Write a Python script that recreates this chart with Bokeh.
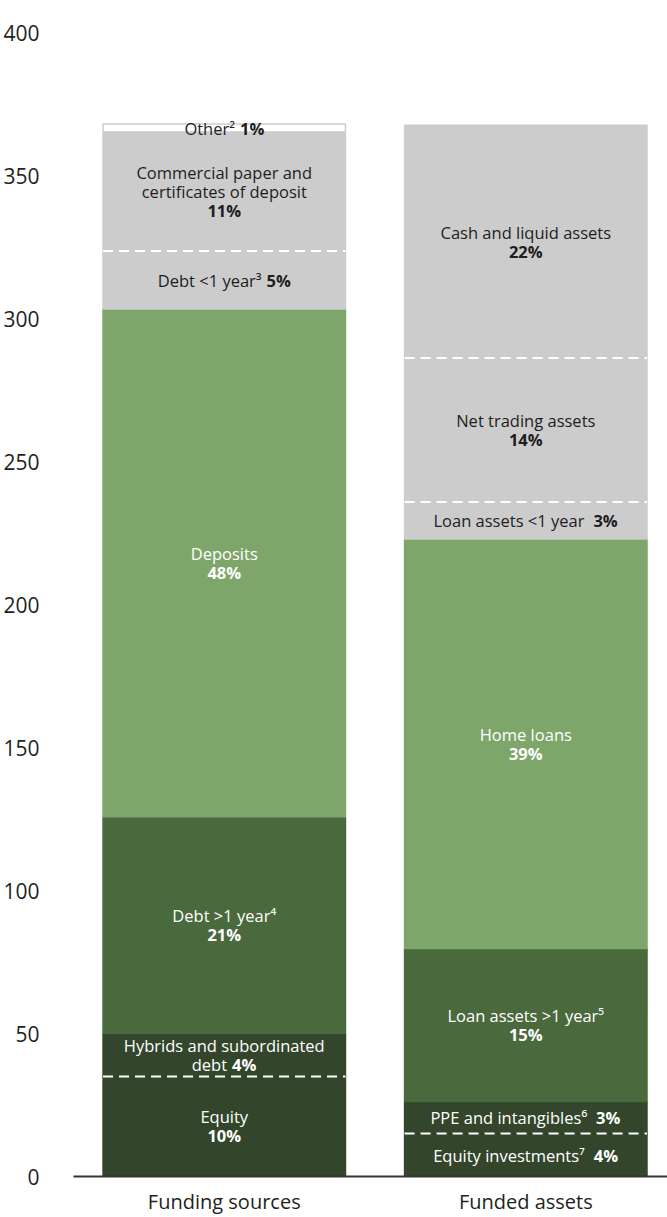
import numpy as np
from bokeh.plotting import figure
from bokeh.models import ColumnDataSource, Range1d, FixedTicker
from bokeh.core.properties import value
from bokeh.embed import file_html
from bokeh.resources import INLINE

# ---------------- data ----------------
categories = ["Funding sources", "Funded assets"]

funding_labels = ["Equity", "Hybrids and subordinated\ndebt", "Debt >1 year\u2074", "Deposits",
                  "Debt <1 year\u00b3", "Commercial paper and\ncertificates of deposit", "Other\u00b2"]
funding_values = [35.0, 15.0, 75.8, 177.5, 20.3, 41.6, 2.8]
funding_pct = ["10%", "4%", "21%", "48%", "5%", "11%", "1%"]

funded_labels = ["Equity investments\u2077", "PPE and intangibles\u2076", "Loan assets >1 year\u2075",
                 "Home loans", "Loan assets <1 year", "Net trading assets", "Cash and liquid assets"]
funded_values = [15.0, 11.2, 53.5, 143.2, 12.9, 50.4, 81.4]
funded_pct = ["4%", "3%", "15%", "39%", "3%", "14%", "22%"]

y_ticks = [0, 50, 100, 150, 200, 250, 300, 350, 400]

# ---------------- styles ----------------
DARKEST, DARK, LIGHT, GREY, WHITE = "#33462b", "#4a693d", "#7ea66b", "#cccccc", "#ffffff"
funding_fill = [DARKEST, DARKEST, DARK, LIGHT, GREY, GREY, WHITE]
funded_fill = [DARKEST, DARKEST, DARK, LIGHT, GREY, GREY, GREY]
funding_inline = [False, True, False, False, True, False, True]
funded_inline = [True, True, False, False, True, False, False]
funding_gap = [5, 5, 5, 5, 5, 5, 5]
funded_gap = [9, 9, 5, 5, 9, 5, 5]

FONT = "Open Sans"
LABEL_PX = 16.5
LINE_H = 19.0
BAR_W = 0.804

W_TABLE = {' ': .26, 'a': .556, 'b': .613, 'c': .476, 'd': .613, 'e': .561, 'f': .339, 'g': .548,
           'h': .614, 'i': .253, 'j': .253, 'k': .525, 'l': .253, 'm': .93, 'n': .614, 'o': .604,
           'p': .613, 'q': .613, 'r': .408, 's': .477, 't': .353, 'u': .614, 'v': .501, 'w': .778,
           'x': .524, 'y': .502, 'z': .477, 'D': .722, 'E': .526, 'P': .585, 'L': .516, 'O': .779,
           'C': .632, 'H': .738, 'N': .764, 'I': .279, '%': .838, '<': .572, '>': .572}


def text_w(s, bold=False):
    w = 0.0
    for ch in s:
        if ch in W_TABLE:
            w += W_TABLE[ch]
        elif ch in "\u00b2\u00b3\u00b9\u2074\u2075\u2076\u2077":
            w += 0.38
        else:
            w += 0.572
    return w * LABEL_PX * (1.06 if bold else 1.0)


def text_colour(fill):
    return "#1e1e1e" if fill in (GREY, WHITE) else "#ffffff"


p = figure(width=667, height=1217, output_backend="svg", toolbar_location=None,
           x_range=Range1d(0, 1.970), y_range=Range1d(0, 400),
           min_border_left=73, min_border_right=0, min_border_top=32, min_border_bottom=40)
p.outline_line_color = None
p.xgrid.grid_line_color = None
p.ygrid.grid_line_color = None
p.background_fill_color = "#ffffff"
p.border_fill_color = "#ffffff"

bars = dict(x=[], bottom=[], top=[], fill=[], line=[])
dashes = dict(x0=[], x1=[], y=[])
t_center = dict(x=[], y=[], text=[], dy=[], dx=[], color=[])
t_right = dict(x=[], y=[], text=[], dy=[], dx=[], color=[])
b_center = dict(x=[], y=[], text=[], dy=[], dx=[], color=[])
b_left = dict(x=[], y=[], text=[], dy=[], dx=[], color=[])


def add(d, x, y, text, dy, dx, color):
    d["x"].append(x); d["y"].append(y); d["text"].append(text)
    d["dy"].append(dy); d["dx"].append(dx); d["color"].append(color)


for ci, (labels, vals, pcts, fills, inline, gaps) in enumerate([
        (funding_labels, funding_values, funding_pct, funding_fill, funding_inline, funding_gap),
        (funded_labels, funded_values, funded_pct, funded_fill, funded_inline, funded_gap)]):
    xc = ci + 0.5
    tops = np.cumsum(vals)
    bottoms = tops - np.array(vals)
    for i in range(len(vals)):
        bars["x"].append(xc)
        bars["bottom"].append(bottoms[i])
        bars["top"].append(tops[i])
        bars["fill"].append(fills[i])
        bars["line"].append(GREY if fills[i] == WHITE else fills[i])
        if i + 1 < len(vals) and fills[i] == fills[i + 1]:
            dashes["x0"].append(xc - BAR_W / 2)
            dashes["x1"].append(xc + BAR_W / 2)
            dashes["y"].append(tops[i])
        ymid = (bottoms[i] + tops[i]) / 2
        col = text_colour(fills[i])
        lines = labels[i].split("\n")
        n_lines = len(lines) if inline[i] else len(lines) + 1
        for li, ln in enumerate(lines):
            dy = (li - (n_lines - 1) / 2) * LINE_H
            if inline[i] and li == len(lines) - 1:
                wn = text_w(ln)
                wp = text_w(pcts[i], bold=True)
                tot = wn + gaps[i] + wp
                add(t_right, xc, ymid, ln, dy, -tot / 2 + wn, col)
                add(b_left, xc, ymid, pcts[i], dy, -tot / 2 + wn + gaps[i], col)
            else:
                add(t_center, xc, ymid, ln, dy, 0.0, col)
        if not inline[i]:
            dy = (n_lines - 1 - (n_lines - 1) / 2) * LINE_H
            add(b_center, xc, ymid, pcts[i], dy, 0.0, col)

p.vbar(x="x", bottom="bottom", top="top", width=BAR_W, fill_color="fill", line_color="line",
       line_width=1.5, source=ColumnDataSource(bars))
p.segment(x0="x0", y0="y", x1="x1", y1="y", line_color="#ffffff", line_width=2,
          line_dash="10 6", source=ColumnDataSource(dashes))

for d, align, style in [(t_center, "center", "normal"), (t_right, "right", "normal"),
                        (b_center, "center", "bold"), (b_left, "left", "bold")]:
    p.text(x="x", y="y", text="text", x_offset="dx", y_offset="dy", text_color="color",
           text_align=align, text_baseline="middle", text_font=value(FONT),
           text_font_size=f"{LABEL_PX}px", text_font_style=style, source=ColumnDataSource(d))

# axes
p.yaxis.ticker = FixedTicker(ticks=y_ticks)
p.yaxis.axis_line_color = None
p.yaxis.major_tick_line_color = None
p.yaxis.minor_tick_line_color = None
p.yaxis.major_label_standoff = 28
p.yaxis.major_label_text_font = FONT
p.yaxis.major_label_text_font_size = "21px"
p.yaxis.major_label_text_color = "#231f20"

p.xaxis.ticker = FixedTicker(ticks=[0.5, 1.5])
p.xaxis.major_label_overrides = {0.5: categories[0], 1.5: categories[1]}
p.xaxis.axis_line_color = "#333333"
p.xaxis.axis_line_width = 2
p.xaxis.major_tick_line_color = None
p.xaxis.minor_tick_line_color = None
p.xaxis.major_label_standoff = 5
p.xaxis.major_label_text_font = FONT
p.xaxis.major_label_text_font_size = "20px"
p.xaxis.major_label_text_color = "#231f20"

open("out.html", "w").write(file_html(p, INLINE))
